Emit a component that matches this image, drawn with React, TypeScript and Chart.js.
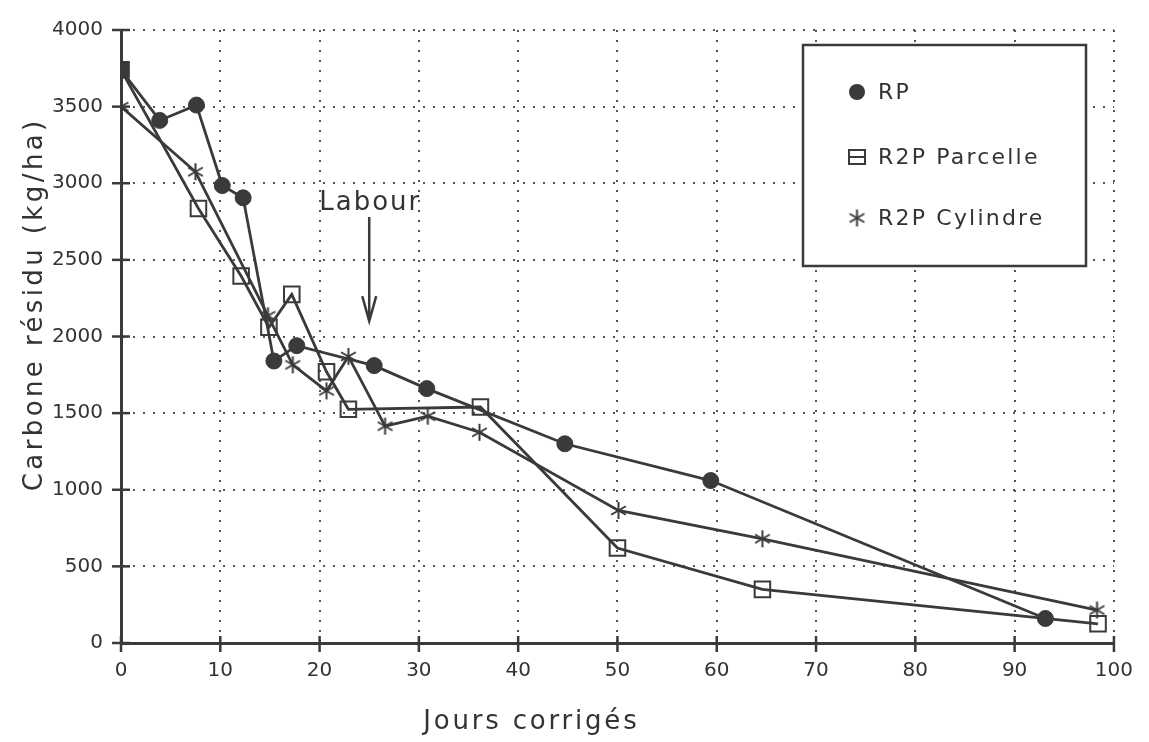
import { useEffect, useRef } from 'react';
import { Chart, registerables } from 'chart.js';

Chart.register(...registerables);

const RP_DAYS = [0, 3.9, 7.6, 10.2, 12.3, 15.4, 17.7, 25.5, 30.8, 44.7, 59.4, 93.1];
const RP_CARBON = [3740, 3410, 3510, 2985, 2905, 1840, 1940, 1810, 1660, 1300, 1060, 160];

const PARCELLE_DAYS = [0, 7.8, 12.1, 14.9, 17.2, 20.7, 22.9, 36.2, 50.0, 64.6, 98.4];
const PARCELLE_CARBON = [3740, 2835, 2395, 2060, 2275, 1770, 1525, 1540, 620, 350, 125];

const CYLINDRE_DAYS = [0, 7.5, 14.8, 17.3, 20.7, 22.9, 26.6, 30.9, 36.1, 50.1, 64.6, 98.3];
const CYLINDRE_CARBON = [3500, 3075, 2135, 1815, 1645, 1870, 1415, 1480, 1375, 865, 680, 215];

const X_TICKS = [0, 10, 20, 30, 40, 50, 60, 70, 80, 90, 100];
const Y_TICKS = [0, 500, 1000, 1500, 2000, 2500, 3000, 3500, 4000];

const SERIES_NAMES = ['RP', 'R2P Parcelle', 'R2P Cylindre'];
const X_TITLE = 'Jours corrigés';
const Y_TITLE = 'Carbone résidu (kg/ha)';
const ANNOTATION_TEXT = 'Labour';
const ANNOTATION_DAY = 25;
const ANNOTATION_ARROW_FROM = 2780;
const ANNOTATION_ARROW_TO = 2100;

const INK = '#3a3a3a';
const TEXT = '#333333';
const FONT = '"DejaVu Sans", sans-serif';

function makeAsterisk(size: number, lw: number): HTMLCanvasElement {
  const c = document.createElement('canvas');
  c.width = size;
  c.height = size;
  const g = c.getContext('2d')!;
  const r = size / 2 - 1;
  g.strokeStyle = INK;
  g.lineWidth = lw;
  g.lineCap = 'butt';
  [90, 30, 150].forEach((deg) => {
    const a = (deg * Math.PI) / 180;
    g.beginPath();
    g.moveTo(size / 2 - r * Math.cos(a), size / 2 - r * Math.sin(a));
    g.lineTo(size / 2 + r * Math.cos(a), size / 2 + r * Math.sin(a));
    g.stroke();
  });
  return c;
}

function spacedText(ctx: CanvasRenderingContext2D, text: string, x: number, y: number, spacing: number, align: 'left' | 'center') {
  (ctx as any).letterSpacing = spacing + 'px';
  const w = ctx.measureText(text).width - spacing;
  const startX = align === 'center' ? x - w / 2 : x;
  ctx.textAlign = 'left';
  ctx.fillText(text, startX, y);
  (ctx as any).letterSpacing = '0px';
}

export default function App() {
  const ref = useRef<HTMLCanvasElement | null>(null);

  useEffect(() => {
    if (!ref.current) return;
    const asterisk = makeAsterisk(19, 2);

    const decorations = {
      id: 'decorations',
      afterDraw(chart: any) {
        const ctx: CanvasRenderingContext2D = chart.ctx;
        const xs = chart.scales.x;
        const ys = chart.scales.y;
        const area = chart.chartArea;
        ctx.save();
        // crossing tick marks
        ctx.strokeStyle = INK;
        ctx.lineWidth = 2.5;
        Y_TICKS.forEach((v) => {
          const py = ys.getPixelForValue(v);
          ctx.beginPath();
          ctx.moveTo(area.left - 9, py);
          ctx.lineTo(area.left + 9, py);
          ctx.stroke();
        });
        X_TICKS.forEach((v) => {
          const px = xs.getPixelForValue(v);
          ctx.beginPath();
          ctx.moveTo(px, area.bottom - 7);
          ctx.lineTo(px, area.bottom + 9);
          ctx.stroke();
        });

        ctx.fillStyle = TEXT;
        ctx.textBaseline = 'alphabetic';
        // x title
        ctx.font = `26px ${FONT}`;
        spacedText(ctx, X_TITLE, 530, 729, 2.8, 'center');
        // y title
        ctx.save();
        ctx.translate(42, 306);
        ctx.rotate(-Math.PI / 2);
        spacedText(ctx, Y_TITLE, 0, 0, 3.4, 'center');
        ctx.restore();

        // annotation
        const ax = xs.getPixelForValue(ANNOTATION_DAY);
        const a1 = ys.getPixelForValue(ANNOTATION_ARROW_FROM);
        const a2 = ys.getPixelForValue(ANNOTATION_ARROW_TO);
        ctx.font = `26px ${FONT}`;
        spacedText(ctx, ANNOTATION_TEXT, ax, a1 - 7, 2, 'center');
        ctx.lineWidth = 2.5;
        ctx.beginPath();
        ctx.moveTo(ax, a1);
        ctx.lineTo(ax, a2);
        ctx.moveTo(ax - 7, a2 - 25);
        ctx.lineTo(ax, a2);
        ctx.lineTo(ax + 7, a2 - 25);
        ctx.stroke();

        // legend box
        ctx.fillStyle = '#ffffff';
        ctx.fillRect(803, 45, 283, 221);
        ctx.lineWidth = 2.5;
        ctx.strokeRect(803, 45, 283, 221);
        const rows = [92, 157, 218];
        ctx.font = `22px ${FONT}`;
        ctx.textBaseline = 'middle';
        ctx.fillStyle = TEXT;
        SERIES_NAMES.forEach((name, i) => {
          const cy = rows[i];
          const mx = 857;
          ctx.fillStyle = INK;
          ctx.strokeStyle = INK;
          if (i === 0) {
            ctx.beginPath();
            ctx.arc(mx, cy, 8, 0, Math.PI * 2);
            ctx.fill();
          } else if (i === 1) {
            ctx.lineWidth = 2;
            ctx.strokeRect(mx - 8, cy - 7, 16, 14);
            ctx.beginPath();
            ctx.moveTo(mx - 9, cy);
            ctx.lineTo(mx + 9, cy);
            ctx.stroke();
          } else {
            ctx.drawImage(asterisk, mx - 9.5, cy - 9.5);
          }
          ctx.fillStyle = TEXT;
          spacedText(ctx, name, 878, cy + 1, 2.2, 'left');
        });
        ctx.restore();
      },
    };

    const gridOpts = {
      color: '#555555',
      lineWidth: 2,
      drawTicks: false,
    };
    const borderOpts = { display: true, color: INK, width: 3, dash: [2, 8] };

    const chart = new Chart(ref.current, {
      type: 'line',
      data: {
        datasets: [
          {
            label: SERIES_NAMES[0],
            data: RP_DAYS.map((d, i) => ({ x: d, y: RP_CARBON[i] })),
            borderColor: INK,
            backgroundColor: INK,
            borderWidth: 2.8,
            pointStyle: (c: any) => (c.dataIndex === 0 ? 'rect' : 'circle'),
            pointRadius: (c: any) => (c.dataIndex === 0 ? 11 : 8),
            pointBorderWidth: 1,
            tension: 0,
          },
          {
            label: SERIES_NAMES[1],
            data: PARCELLE_DAYS.map((d, i) => ({ x: d, y: PARCELLE_CARBON[i] })),
            borderColor: INK,
            backgroundColor: 'rgba(0,0,0,0)',
            borderWidth: 2.8,
            pointStyle: 'rect',
            pointRadius: 11,
            pointBorderWidth: 2,
            tension: 0,
          },
          {
            label: SERIES_NAMES[2],
            data: CYLINDRE_DAYS.map((d, i) => ({ x: d, y: CYLINDRE_CARBON[i] })),
            borderColor: INK,
            backgroundColor: INK,
            borderWidth: 2.8,
            pointStyle: asterisk as any,
            pointRadius: 9,
            tension: 0,
          },
        ],
      },
      options: {
        animation: false,
        responsive: false,
        maintainAspectRatio: false,
        layout: { padding: { top: 22, right: 33, left: 0, bottom: 0 } },
        plugins: {
          legend: { display: false },
          tooltip: { enabled: false },
          title: { display: false },
        },
        scales: {
          x: {
            type: 'linear',
            min: 0,
            max: 100,
            afterBuildTicks: (s: any) => {
              s.ticks = X_TICKS.map((v) => ({ value: v }));
            },
            afterFit: (s: any) => {
              s.height = 99;
            },
            grid: gridOpts,
            border: borderOpts,
            ticks: {
              color: TEXT,
              font: { family: FONT, size: 20 },
              padding: 16,
              maxRotation: 0,
              autoSkip: false,
              callback: (v: any) => String(v),
            },
          },
          y: {
            type: 'linear',
            min: 0,
            max: 4000,
            afterBuildTicks: (s: any) => {
              s.ticks = Y_TICKS.map((v) => ({ value: v }));
            },
            afterFit: (s: any) => {
              s.width = 121;
            },
            grid: gridOpts,
            border: borderOpts,
            ticks: {
              color: TEXT,
              font: { family: FONT, size: 20 },
              padding: 18,
              autoSkip: false,
              callback: (v: any) => String(v),
            },
          },
        },
      },
      plugins: [decorations],
    } as any);

    return () => chart.destroy();
  }, []);

  return (
    <div style={{ position: 'fixed', left: 0, top: 0, width: 1149, height: 742, background: '#fff' }}>
      <canvas ref={ref} width={1149} height={742} style={{ display: 'block' }} />
    </div>
  );
}
